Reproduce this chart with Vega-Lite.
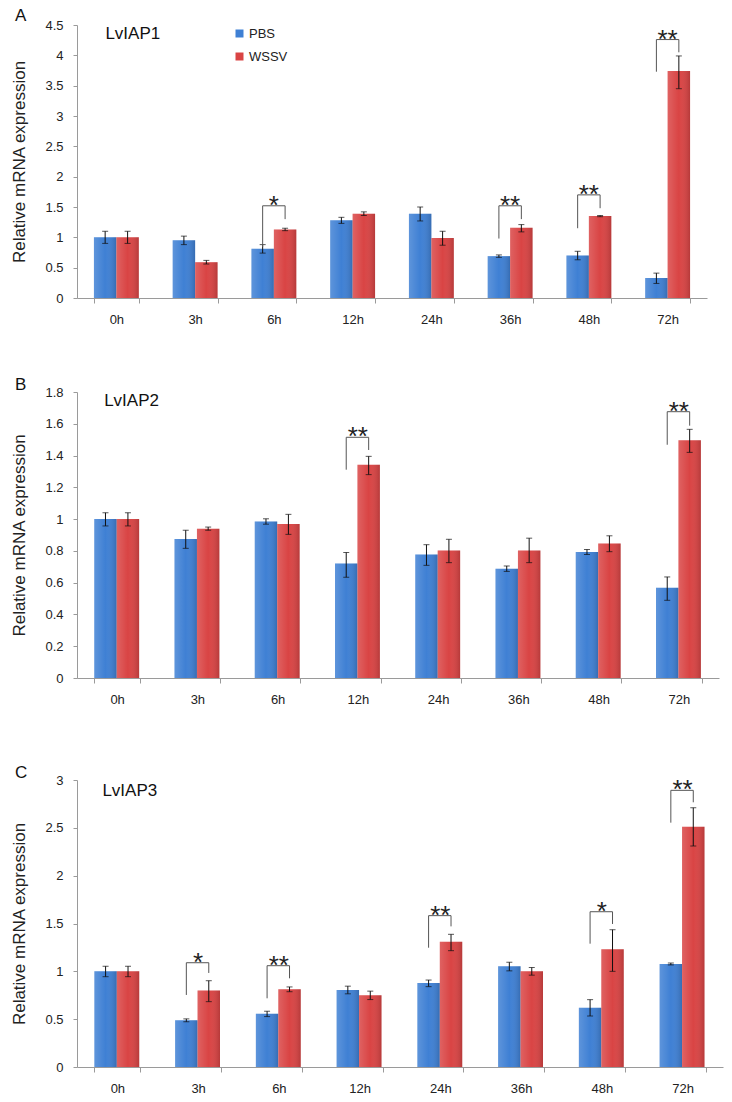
{
  "$schema": "https://vega.github.io/schema/vega-lite/v6.json",
  "background": "white",
  "padding": {"left": 10, "top": 7, "right": 6, "bottom": 4},
  "bounds": "flush",
  "spacing": 94,
  "config": {
    "font": "Liberation Sans",
    "view": {"stroke": null},
    "axis": {"labelFont": "Liberation Sans", "labelFontSize": 13, "labelColor": "#222", "domainColor": "#9a9a9a", "tickColor": "#9a9a9a", "grid": false, "titleFont": "Liberation Sans", "titleFontWeight": "normal", "titleFontSize": 17, "titleColor": "#222"},
    "axisX": {"labelAngle": 0, "tickBand": "extent", "tickSize": 5, "labelPadding": 10},
    "axisY": {"tickSize": 4, "labelPadding": 10, "titlePadding": 16, "format": "~g", "labelOverlap": false, "tickCount": 20}
  },
  "resolve": {"legend": {"color": "independent"}},
  "datasets": {
    "A": [
      {"time": "0h", "group": "PBS", "value": 1.0, "lo": 0.9, "hi": 1.1},
      {"time": "0h", "group": "WSSV", "value": 1.0, "lo": 0.9, "hi": 1.1},
      {"time": "3h", "group": "PBS", "value": 0.95, "lo": 0.88, "hi": 1.02},
      {"time": "3h", "group": "WSSV", "value": 0.59, "lo": 0.56, "hi": 0.62},
      {"time": "6h", "group": "PBS", "value": 0.81, "lo": 0.74, "hi": 0.88},
      {"time": "6h", "group": "WSSV", "value": 1.13, "lo": 1.11, "hi": 1.15},
      {"time": "12h", "group": "PBS", "value": 1.28, "lo": 1.23, "hi": 1.33},
      {"time": "12h", "group": "WSSV", "value": 1.39, "lo": 1.36, "hi": 1.42},
      {"time": "24h", "group": "PBS", "value": 1.39, "lo": 1.27, "hi": 1.5},
      {"time": "24h", "group": "WSSV", "value": 0.99, "lo": 0.87, "hi": 1.1},
      {"time": "36h", "group": "PBS", "value": 0.69, "lo": 0.67, "hi": 0.71},
      {"time": "36h", "group": "WSSV", "value": 1.16, "lo": 1.09, "hi": 1.21},
      {"time": "48h", "group": "PBS", "value": 0.7, "lo": 0.63, "hi": 0.77},
      {"time": "48h", "group": "WSSV", "value": 1.35, "lo": 1.34, "hi": 1.36},
      {"time": "72h", "group": "PBS", "value": 0.33, "lo": 0.24, "hi": 0.41},
      {"time": "72h", "group": "WSSV", "value": 3.74, "lo": 3.45, "hi": 3.99}
    ],
    "B": [
      {"time": "0h", "group": "PBS", "value": 1.0, "lo": 0.957, "hi": 1.04},
      {"time": "0h", "group": "WSSV", "value": 1.0, "lo": 0.957, "hi": 1.04},
      {"time": "3h", "group": "PBS", "value": 0.875, "lo": 0.816, "hi": 0.93},
      {"time": "3h", "group": "WSSV", "value": 0.94, "lo": 0.93, "hi": 0.95},
      {"time": "6h", "group": "PBS", "value": 0.985, "lo": 0.968, "hi": 1.002},
      {"time": "6h", "group": "WSSV", "value": 0.97, "lo": 0.904, "hi": 1.03},
      {"time": "12h", "group": "PBS", "value": 0.72, "lo": 0.634, "hi": 0.79},
      {"time": "12h", "group": "WSSV", "value": 1.342, "lo": 1.28, "hi": 1.395},
      {"time": "24h", "group": "PBS", "value": 0.778, "lo": 0.709, "hi": 0.839},
      {"time": "24h", "group": "WSSV", "value": 0.803, "lo": 0.726, "hi": 0.873},
      {"time": "36h", "group": "PBS", "value": 0.688, "lo": 0.671, "hi": 0.705},
      {"time": "36h", "group": "WSSV", "value": 0.803, "lo": 0.726, "hi": 0.88},
      {"time": "48h", "group": "PBS", "value": 0.793, "lo": 0.777, "hi": 0.809},
      {"time": "48h", "group": "WSSV", "value": 0.847, "lo": 0.795, "hi": 0.895},
      {"time": "72h", "group": "PBS", "value": 0.568, "lo": 0.489, "hi": 0.636},
      {"time": "72h", "group": "WSSV", "value": 1.496, "lo": 1.42, "hi": 1.565}
    ],
    "C": [
      {"time": "0h", "group": "PBS", "value": 1.0, "lo": 0.944, "hi": 1.053},
      {"time": "0h", "group": "WSSV", "value": 1.0, "lo": 0.944, "hi": 1.053},
      {"time": "3h", "group": "PBS", "value": 0.488, "lo": 0.473, "hi": 0.503},
      {"time": "3h", "group": "WSSV", "value": 0.8, "lo": 0.683, "hi": 0.902},
      {"time": "6h", "group": "PBS", "value": 0.557, "lo": 0.527, "hi": 0.583},
      {"time": "6h", "group": "WSSV", "value": 0.812, "lo": 0.787, "hi": 0.837},
      {"time": "12h", "group": "PBS", "value": 0.805, "lo": 0.765, "hi": 0.845},
      {"time": "12h", "group": "WSSV", "value": 0.749, "lo": 0.705, "hi": 0.793},
      {"time": "24h", "group": "PBS", "value": 0.878, "lo": 0.84, "hi": 0.909},
      {"time": "24h", "group": "WSSV", "value": 1.31, "lo": 1.216, "hi": 1.387},
      {"time": "36h", "group": "PBS", "value": 1.052, "lo": 1.005, "hi": 1.095},
      {"time": "36h", "group": "WSSV", "value": 1.0, "lo": 0.96, "hi": 1.04},
      {"time": "48h", "group": "PBS", "value": 0.62, "lo": 0.533, "hi": 0.704},
      {"time": "48h", "group": "WSSV", "value": 1.23, "lo": 1.0, "hi": 1.435},
      {"time": "72h", "group": "PBS", "value": 1.077, "lo": 1.067, "hi": 1.087},
      {"time": "72h", "group": "WSSV", "value": 2.512, "lo": 2.31, "hi": 2.71}
    ],
    "bA": [
      {"id": "6h", "time": "6h", "group": "PBS", "seq": 1, "y": 0.84},
      {"id": "6h", "time": "6h", "group": "PBS", "seq": 2, "y": 1.52},
      {"id": "6h", "time": "6h", "group": "WSSV", "seq": 3, "y": 1.52},
      {"id": "6h", "time": "6h", "group": "WSSV", "seq": 4, "y": 1.3},
      {"id": "36h", "time": "36h", "group": "PBS", "seq": 1, "y": 0.98},
      {"id": "36h", "time": "36h", "group": "PBS", "seq": 2, "y": 1.52},
      {"id": "36h", "time": "36h", "group": "WSSV", "seq": 3, "y": 1.52},
      {"id": "36h", "time": "36h", "group": "WSSV", "seq": 4, "y": 1.3},
      {"id": "48h", "time": "48h", "group": "PBS", "seq": 1, "y": 1.15},
      {"id": "48h", "time": "48h", "group": "PBS", "seq": 2, "y": 1.7},
      {"id": "48h", "time": "48h", "group": "WSSV", "seq": 3, "y": 1.7},
      {"id": "48h", "time": "48h", "group": "WSSV", "seq": 4, "y": 1.48},
      {"id": "72h", "time": "72h", "group": "PBS", "seq": 1, "y": 3.73},
      {"id": "72h", "time": "72h", "group": "PBS", "seq": 2, "y": 4.26},
      {"id": "72h", "time": "72h", "group": "WSSV", "seq": 3, "y": 4.26},
      {"id": "72h", "time": "72h", "group": "WSSV", "seq": 4, "y": 4.05}
    ],
    "bB": [
      {"id": "12h", "time": "12h", "group": "PBS", "seq": 1, "y": 1.311},
      {"id": "12h", "time": "12h", "group": "PBS", "seq": 2, "y": 1.515},
      {"id": "12h", "time": "12h", "group": "WSSV", "seq": 3, "y": 1.515},
      {"id": "12h", "time": "12h", "group": "WSSV", "seq": 4, "y": 1.435},
      {"id": "72h", "time": "72h", "group": "PBS", "seq": 1, "y": 1.468},
      {"id": "72h", "time": "72h", "group": "PBS", "seq": 2, "y": 1.676},
      {"id": "72h", "time": "72h", "group": "WSSV", "seq": 3, "y": 1.676},
      {"id": "72h", "time": "72h", "group": "WSSV", "seq": 4, "y": 1.588}
    ],
    "bC": [
      {"id": "3h", "time": "3h", "group": "PBS", "seq": 1, "y": 0.753},
      {"id": "3h", "time": "3h", "group": "PBS", "seq": 2, "y": 1.09},
      {"id": "3h", "time": "3h", "group": "WSSV", "seq": 3, "y": 1.09},
      {"id": "3h", "time": "3h", "group": "WSSV", "seq": 4, "y": 0.983},
      {"id": "6h", "time": "6h", "group": "PBS", "seq": 1, "y": 0.718},
      {"id": "6h", "time": "6h", "group": "PBS", "seq": 2, "y": 1.059},
      {"id": "6h", "time": "6h", "group": "WSSV", "seq": 3, "y": 1.059},
      {"id": "6h", "time": "6h", "group": "WSSV", "seq": 4, "y": 0.927},
      {"id": "24h", "time": "24h", "group": "PBS", "seq": 1, "y": 1.247},
      {"id": "24h", "time": "24h", "group": "PBS", "seq": 2, "y": 1.582},
      {"id": "24h", "time": "24h", "group": "WSSV", "seq": 3, "y": 1.582},
      {"id": "24h", "time": "24h", "group": "WSSV", "seq": 4, "y": 1.47},
      {"id": "48h", "time": "48h", "group": "PBS", "seq": 1, "y": 1.289},
      {"id": "48h", "time": "48h", "group": "PBS", "seq": 2, "y": 1.623},
      {"id": "48h", "time": "48h", "group": "WSSV", "seq": 3, "y": 1.623},
      {"id": "48h", "time": "48h", "group": "WSSV", "seq": 4, "y": 1.495},
      {"id": "72h", "time": "72h", "group": "PBS", "seq": 1, "y": 2.554},
      {"id": "72h", "time": "72h", "group": "PBS", "seq": 2, "y": 2.892},
      {"id": "72h", "time": "72h", "group": "WSSV", "seq": 3, "y": 2.892},
      {"id": "72h", "time": "72h", "group": "WSSV", "seq": 4, "y": 2.767}
    ],
    "sA": [
      {"time": "6h", "y": 1.52, "label": "*"},
      {"time": "36h", "y": 1.52, "label": "**"},
      {"time": "48h", "y": 1.7, "label": "**"},
      {"time": "72h", "y": 4.26, "label": "**"}
    ],
    "sB": [
      {"time": "12h", "y": 1.515, "label": "**"},
      {"time": "72h", "y": 1.676, "label": "**"}
    ],
    "sC": [
      {"time": "3h", "y": 1.09, "label": "*"},
      {"time": "6h", "y": 1.059, "label": "**"},
      {"time": "24h", "y": 1.582, "label": "**"},
      {"time": "48h", "y": 1.623, "label": "*"},
      {"time": "72h", "y": 2.892, "label": "**"}
    ]
  },
  "vconcat": [
    {
      "width": 630,
      "height": 273,
      "title": {"text": "A", "anchor": "start", "frame": "bounds", "fontSize": 17, "fontWeight": "normal", "font": "Liberation Sans", "baseline": "alphabetic", "offset": -19, "dx": 4, "color": "#111"},
      "layer": [
        {"data": {"name": "A"}, "mark": {"type": "bar"},
         "encoding": {
           "x": {"field": "time", "type": "nominal", "title": null, "sort": ["0h","3h","6h","12h","24h","36h","48h","72h"], "scale": {"paddingInner": 0.43, "paddingOuter": 0.215}},
           "xOffset": {"field": "group", "type": "nominal", "sort": ["PBS","WSSV"], "scale": {"paddingInner": 0, "paddingOuter": 0}},
           "y": {"field": "value", "type": "quantitative", "title": "Relative mRNA expression", "scale": {"domain": [0, 4.5], "nice": false}, "axis": {"values": [0,0.5,1,1.5,2,2.5,3,3.5,4,4.5], "tickCount": 20}},
           "color": {"field": "group", "type": "nominal", "scale": {"domain": ["PBS","WSSV"], "range": ["#3f80d4","#d94444"]}, "legend": {"title": null, "orient": "none", "legendX": 156, "legendY": 2, "symbolType": "square", "symbolSize": 64, "labelFontSize": 13, "labelFont": "Liberation Sans", "labelColor": "#222", "rowPadding": 9, "symbolStrokeWidth": 0, "labelOffset": 3}}
         }},
        {"data": {"name": "A"}, "mark": {"type": "bar", "fill": {"gradient": "linear", "x1": 0, "y1": 0, "x2": 1, "y2": 0, "stops": [{"offset": 0, "color": "rgba(255,255,255,0.16)"}, {"offset": 0.5, "color": "rgba(255,255,255,0)"}, {"offset": 1, "color": "rgba(0,0,0,0.16)"}]}},
         "encoding": {
           "x": {"field": "time", "type": "nominal", "title": null, "sort": ["0h","3h","6h","12h","24h","36h","48h","72h"]},
           "xOffset": {"field": "group", "type": "nominal", "sort": ["PBS","WSSV"]},
           "y": {"field": "value", "type": "quantitative", "title": "Relative mRNA expression"}
         }},
        {"data": {"name": "A"}, "mark": {"type": "rule", "color": "#111", "strokeWidth": 1},
         "encoding": {
           "x": {"field": "time", "type": "nominal", "title": null, "sort": ["0h","3h","6h","12h","24h","36h","48h","72h"]},
           "xOffset": {"field": "group", "type": "nominal", "sort": ["PBS","WSSV"]},
           "y": {"field": "lo", "type": "quantitative", "title": "Relative mRNA expression"},
           "y2": {"field": "hi"}
         }},
        {"data": {"name": "A"}, "mark": {"type": "tick", "color": "#111", "thickness": 1, "size": 6},
         "encoding": {
           "x": {"field": "time", "type": "nominal", "title": null, "sort": ["0h","3h","6h","12h","24h","36h","48h","72h"]},
           "xOffset": {"field": "group", "type": "nominal", "sort": ["PBS","WSSV"]},
           "y": {"field": "lo", "type": "quantitative", "title": "Relative mRNA expression"}
         }},
        {"data": {"name": "A"}, "mark": {"type": "tick", "color": "#111", "thickness": 1, "size": 6},
         "encoding": {
           "x": {"field": "time", "type": "nominal", "title": null, "sort": ["0h","3h","6h","12h","24h","36h","48h","72h"]},
           "xOffset": {"field": "group", "type": "nominal", "sort": ["PBS","WSSV"]},
           "y": {"field": "hi", "type": "quantitative", "title": "Relative mRNA expression"}
         }},
        {"data": {"name": "bA"}, "mark": {"type": "line", "color": "#555", "strokeWidth": 1},
         "encoding": {
           "x": {"field": "time", "type": "nominal", "title": null, "sort": ["0h","3h","6h","12h","24h","36h","48h","72h"]},
           "xOffset": {"field": "group", "type": "nominal", "sort": ["PBS","WSSV"]},
           "y": {"field": "y", "type": "quantitative", "title": "Relative mRNA expression"},
           "detail": {"field": "id"},
           "order": {"field": "seq"}
         }},
        {"data": {"name": "sA"}, "mark": {"type": "text", "fontSize": 26, "font": "Liberation Sans", "baseline": "alphabetic", "dy": 8, "color": "#222"},
         "encoding": {
           "x": {"field": "time", "type": "nominal", "title": null, "sort": ["0h","3h","6h","12h","24h","36h","48h","72h"]},
           "y": {"field": "y", "type": "quantitative", "title": "Relative mRNA expression"},
           "text": {"field": "label"}
         }},
        {"data": {"values": [{"t": "LvIAP1"}]}, "mark": {"type": "text", "align": "left", "baseline": "middle", "fontSize": 17, "dx": -11, "color": "#111"},
         "encoding": {"x": {"datum": "0h"}, "y": {"datum": 4.35}, "text": {"field": "t"}}}
      ]
    },
    {
      "bounds": "flush",
      "spacing": 102,
      "vconcat": [
        {
          "width": 642,
          "height": 286,
          "title": {"text": "B", "anchor": "start", "frame": "bounds", "fontSize": 17, "fontWeight": "normal", "font": "Liberation Sans", "baseline": "alphabetic", "offset": -21, "dx": 4, "color": "#111"},
          "layer": [
            {"data": {"name": "B"}, "mark": {"type": "bar"},
             "encoding": {
               "x": {"field": "time", "type": "nominal", "title": null, "sort": ["0h","3h","6h","12h","24h","36h","48h","72h"], "scale": {"paddingInner": 0.43, "paddingOuter": 0.215}},
               "xOffset": {"field": "group", "type": "nominal", "sort": ["PBS","WSSV"], "scale": {"paddingInner": 0, "paddingOuter": 0}},
               "y": {"field": "value", "type": "quantitative", "title": "Relative mRNA expression", "scale": {"domain": [0, 1.8], "nice": false}, "axis": {"values": [0,0.2,0.4,0.6,0.8,1,1.2,1.4,1.6,1.8], "tickCount": 20}},
               "color": {"field": "group", "type": "nominal", "scale": {"domain": ["PBS","WSSV"], "range": ["#3f80d4","#d94444"]}, "legend": null}
             }},
            {"data": {"name": "B"}, "mark": {"type": "bar", "fill": {"gradient": "linear", "x1": 0, "y1": 0, "x2": 1, "y2": 0, "stops": [{"offset": 0, "color": "rgba(255,255,255,0.16)"}, {"offset": 0.5, "color": "rgba(255,255,255,0)"}, {"offset": 1, "color": "rgba(0,0,0,0.16)"}]}},
             "encoding": {
               "x": {"field": "time", "type": "nominal", "title": null, "sort": ["0h","3h","6h","12h","24h","36h","48h","72h"]},
               "xOffset": {"field": "group", "type": "nominal", "sort": ["PBS","WSSV"]},
               "y": {"field": "value", "type": "quantitative", "title": "Relative mRNA expression"}
             }},
            {"data": {"name": "B"}, "mark": {"type": "rule", "color": "#111", "strokeWidth": 1},
             "encoding": {
               "x": {"field": "time", "type": "nominal", "title": null, "sort": ["0h","3h","6h","12h","24h","36h","48h","72h"]},
               "xOffset": {"field": "group", "type": "nominal", "sort": ["PBS","WSSV"]},
               "y": {"field": "lo", "type": "quantitative", "title": "Relative mRNA expression"},
               "y2": {"field": "hi"}
             }},
            {"data": {"name": "B"}, "mark": {"type": "tick", "color": "#111", "thickness": 1, "size": 6},
             "encoding": {
               "x": {"field": "time", "type": "nominal", "title": null, "sort": ["0h","3h","6h","12h","24h","36h","48h","72h"]},
               "xOffset": {"field": "group", "type": "nominal", "sort": ["PBS","WSSV"]},
               "y": {"field": "lo", "type": "quantitative", "title": "Relative mRNA expression"}
             }},
            {"data": {"name": "B"}, "mark": {"type": "tick", "color": "#111", "thickness": 1, "size": 6},
             "encoding": {
               "x": {"field": "time", "type": "nominal", "title": null, "sort": ["0h","3h","6h","12h","24h","36h","48h","72h"]},
               "xOffset": {"field": "group", "type": "nominal", "sort": ["PBS","WSSV"]},
               "y": {"field": "hi", "type": "quantitative", "title": "Relative mRNA expression"}
             }},
            {"data": {"name": "bB"}, "mark": {"type": "line", "color": "#555", "strokeWidth": 1},
             "encoding": {
               "x": {"field": "time", "type": "nominal", "title": null, "sort": ["0h","3h","6h","12h","24h","36h","48h","72h"]},
               "xOffset": {"field": "group", "type": "nominal", "sort": ["PBS","WSSV"]},
               "y": {"field": "y", "type": "quantitative", "title": "Relative mRNA expression"},
               "detail": {"field": "id"},
               "order": {"field": "seq"}
             }},
            {"data": {"name": "sB"}, "mark": {"type": "text", "fontSize": 26, "font": "Liberation Sans", "baseline": "alphabetic", "dy": 8, "color": "#222"},
             "encoding": {
               "x": {"field": "time", "type": "nominal", "title": null, "sort": ["0h","3h","6h","12h","24h","36h","48h","72h"]},
               "y": {"field": "y", "type": "quantitative", "title": "Relative mRNA expression"},
               "text": {"field": "label"}
             }},
            {"data": {"values": [{"t": "LvIAP2"}]}, "mark": {"type": "text", "align": "left", "baseline": "middle", "fontSize": 17, "dx": -13, "color": "#111"},
             "encoding": {"x": {"datum": "0h"}, "y": {"datum": 1.745}, "text": {"field": "t"}}}
          ]
        },
        {
          "width": 646,
          "height": 287,
          "title": {"text": "C", "anchor": "start", "frame": "bounds", "fontSize": 17, "fontWeight": "normal", "font": "Liberation Sans", "baseline": "alphabetic", "offset": -21, "dx": 4, "color": "#111"},
          "layer": [
            {"data": {"name": "C"}, "mark": {"type": "bar"},
             "encoding": {
               "x": {"field": "time", "type": "nominal", "title": null, "sort": ["0h","3h","6h","12h","24h","36h","48h","72h"], "scale": {"paddingInner": 0.43, "paddingOuter": 0.215}},
               "xOffset": {"field": "group", "type": "nominal", "sort": ["PBS","WSSV"], "scale": {"paddingInner": 0, "paddingOuter": 0}},
               "y": {"field": "value", "type": "quantitative", "title": "Relative mRNA expression", "scale": {"domain": [0, 3], "nice": false}, "axis": {"values": [0,0.5,1,1.5,2,2.5,3], "tickCount": 20}},
               "color": {"field": "group", "type": "nominal", "scale": {"domain": ["PBS","WSSV"], "range": ["#3f80d4","#d94444"]}, "legend": null}
             }},
            {"data": {"name": "C"}, "mark": {"type": "bar", "fill": {"gradient": "linear", "x1": 0, "y1": 0, "x2": 1, "y2": 0, "stops": [{"offset": 0, "color": "rgba(255,255,255,0.16)"}, {"offset": 0.5, "color": "rgba(255,255,255,0)"}, {"offset": 1, "color": "rgba(0,0,0,0.16)"}]}},
             "encoding": {
               "x": {"field": "time", "type": "nominal", "title": null, "sort": ["0h","3h","6h","12h","24h","36h","48h","72h"]},
               "xOffset": {"field": "group", "type": "nominal", "sort": ["PBS","WSSV"]},
               "y": {"field": "value", "type": "quantitative", "title": "Relative mRNA expression"}
             }},
            {"data": {"name": "C"}, "mark": {"type": "rule", "color": "#111", "strokeWidth": 1},
             "encoding": {
               "x": {"field": "time", "type": "nominal", "title": null, "sort": ["0h","3h","6h","12h","24h","36h","48h","72h"]},
               "xOffset": {"field": "group", "type": "nominal", "sort": ["PBS","WSSV"]},
               "y": {"field": "lo", "type": "quantitative", "title": "Relative mRNA expression"},
               "y2": {"field": "hi"}
             }},
            {"data": {"name": "C"}, "mark": {"type": "tick", "color": "#111", "thickness": 1, "size": 6},
             "encoding": {
               "x": {"field": "time", "type": "nominal", "title": null, "sort": ["0h","3h","6h","12h","24h","36h","48h","72h"]},
               "xOffset": {"field": "group", "type": "nominal", "sort": ["PBS","WSSV"]},
               "y": {"field": "lo", "type": "quantitative", "title": "Relative mRNA expression"}
             }},
            {"data": {"name": "C"}, "mark": {"type": "tick", "color": "#111", "thickness": 1, "size": 6},
             "encoding": {
               "x": {"field": "time", "type": "nominal", "title": null, "sort": ["0h","3h","6h","12h","24h","36h","48h","72h"]},
               "xOffset": {"field": "group", "type": "nominal", "sort": ["PBS","WSSV"]},
               "y": {"field": "hi", "type": "quantitative", "title": "Relative mRNA expression"}
             }},
            {"data": {"name": "bC"}, "mark": {"type": "line", "color": "#555", "strokeWidth": 1},
             "encoding": {
               "x": {"field": "time", "type": "nominal", "title": null, "sort": ["0h","3h","6h","12h","24h","36h","48h","72h"]},
               "xOffset": {"field": "group", "type": "nominal", "sort": ["PBS","WSSV"]},
               "y": {"field": "y", "type": "quantitative", "title": "Relative mRNA expression"},
               "detail": {"field": "id"},
               "order": {"field": "seq"}
             }},
            {"data": {"name": "sC"}, "mark": {"type": "text", "fontSize": 26, "font": "Liberation Sans", "baseline": "alphabetic", "dy": 8, "color": "#222"},
             "encoding": {
               "x": {"field": "time", "type": "nominal", "title": null, "sort": ["0h","3h","6h","12h","24h","36h","48h","72h"]},
               "y": {"field": "y", "type": "quantitative", "title": "Relative mRNA expression"},
               "text": {"field": "label"}
             }},
            {"data": {"values": [{"t": "LvIAP3"}]}, "mark": {"type": "text", "align": "left", "baseline": "middle", "fontSize": 17, "dx": -15, "color": "#111"},
             "encoding": {"x": {"datum": "0h"}, "y": {"datum": 2.89}, "text": {"field": "t"}}}
          ]
        }
      ]
    }
  ]
}
